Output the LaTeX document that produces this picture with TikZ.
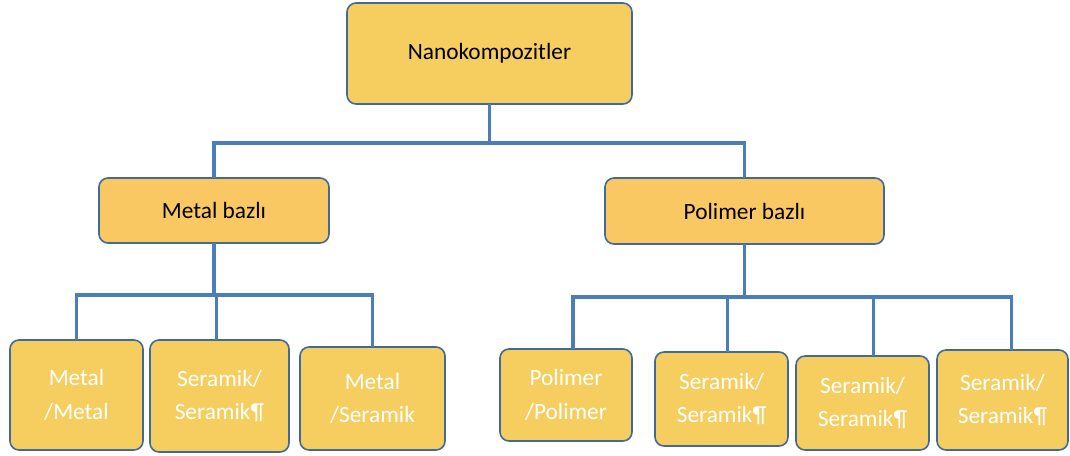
\documentclass[tikz,border=0pt]{standalone}
\usepackage{fontspec}
\setmainfont{Carlito}
\newdimen\px \px=0.75pt

\definecolor{boxfill}{HTML}{F5CE5F}
\definecolor{midfill}{HTML}{FAC863}
\definecolor{boxline}{HTML}{41699A}
\definecolor{linkblue}{HTML}{4A7EBB}

\begin{document}
\begin{tikzpicture}[x=0.75pt,y=-0.75pt,
    box/.style={draw=boxline,line width=1.2pt,rounded corners=9\px,fill=boxfill,
        inner sep=0pt,outer sep=0pt,align=center,font=\fontsize{17.5}{25}\selectfont},
    leaf/.style={box,text=white},
    link/.style={draw=linkblue,line width=3.5\px}]

    \useasboundingbox (0,0) rectangle (1070,455);

    \node[box,minimum width=285\px,minimum height=101\px] (nano) at (489.5,53.5) {Nanokompozitler};
    \node[box,fill=midfill,minimum width=230\px,minimum height=65\px] (metal) at (214,210.5) {Metal bazlı};
    \node[box,fill=midfill,minimum width=279\px,minimum height=66\px] (polimer) at (744.5,211) {Polimer bazlı};

    \node[leaf,minimum width=133\px,minimum height=110\px] (mm) at (76.5,395) {Metal\\/Metal};
    \node[leaf,minimum width=139\px,minimum height=112\px] (ss1) at (219.5,396) {Seramik/\\Seramik¶};
    \node[leaf,minimum width=145\px,minimum height=103\px] (ms) at (372.5,398.5) {Metal\\/Seramik};

    \node[leaf,minimum width=132\px,minimum height=92\px] (pp) at (566,395) {Polimer\\/Polimer};
    \node[leaf,minimum width=133\px,minimum height=94\px] (ss2) at (721.5,399) {Seramik/\\Seramik¶};
    \node[leaf,minimum width=133\px,minimum height=94\px] (ss3) at (862.5,403) {Seramik/\\Seramik¶};
    \node[leaf,minimum width=131\px,minimum height=100\px] (ss4) at (1002.5,400) {Seramik/\\Seramik¶};

    % top level
    \coordinate (jt) at (489.5,143);
    \draw[link] (nano.south) -- (jt);
    \draw[link] (metal.north) |- (jt) -| (polimer.north);

    % metal branch
    \coordinate (jl) at (214,295);
    \draw[link] (metal.south) -- (jl);
    \draw[link] (mm.north) |- (jl) -| (ms.north);
    \draw[link] ([xshift=-3\px]ss1.north) -- ([xshift=-3\px]ss1.north |- jl);

    % polimer branch
    \coordinate (jr) at (744.5,297);
    \draw[link] (polimer.south) -- (jr);
    \draw[link] ([xshift=7\px]pp.north) |- (jr) -| ([xshift=9\px]ss4.north);
    \draw[link] ([xshift=6\px]ss2.north) -- ([xshift=6\px]ss2.north |- jr);
    \draw[link] ([xshift=11\px]ss3.north) -- ([xshift=11\px]ss3.north |- jr);
\end{tikzpicture}
\end{document}
